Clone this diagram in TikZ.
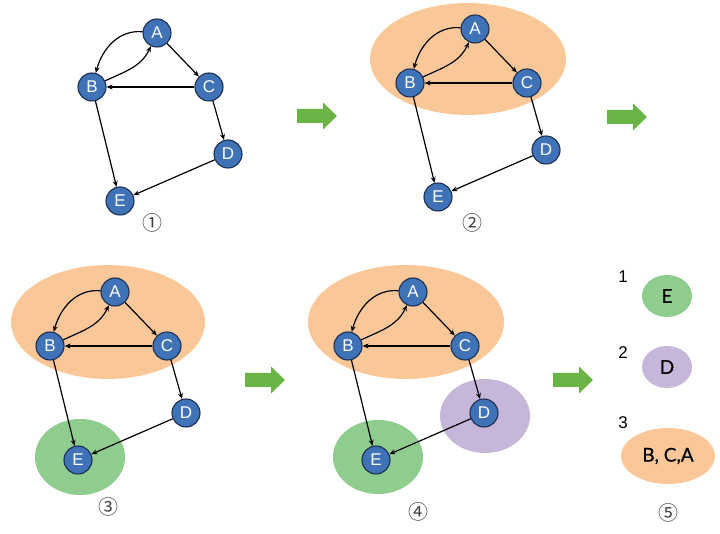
\documentclass[tikz,border=0pt]{standalone}
\usepackage{fontspec}
\setmainfont{Liberation Sans}
\newfontfamily\circfont{Noto Sans CJK SC}
\newfontfamily\blobfont[FakeBold=0.8]{Lato}
\usetikzlibrary{arrows.meta,positioning,shapes.geometric}

\definecolor{nodeblue}{HTML}{3F72B6}
\definecolor{nodeline}{HTML}{1C2F52}
\definecolor{blobgreen}{HTML}{8FCD8F}
\definecolor{blobpurple}{HTML}{C6B7DA}
\definecolor{bloborange}{HTML}{FAC898}
\definecolor{arrowgreen}{HTML}{6AB445}

\begin{document}
\begin{tikzpicture}[x=1pt,y=1pt,>={Stealth[length=6pt,width=5pt]},
    vert/.style={circle,draw=nodeline,fill=nodeblue,line width=1.1pt,minimum size=28pt,inner sep=0pt,text=white,font=\fontsize{17}{17}\selectfont},
    edge/.style={->,line width=1.2pt},
    steplabel/.style={font=\circfont\fontsize{20}{20}\selectfont,text=black!75},
    numlabel/.style={font=\fontsize{17}{17}\selectfont},
    setblob/.style={ellipse,inner sep=0pt,font=\blobfont\fontsize{19}{19}\selectfont},
    stepArrow/.pic={\fill[arrowgreen] (-20,-7) -- (6,-7) -- (6,-13.5) -- (20,0) -- (6,13.5) -- (6,7) -- (-20,7) -- cycle;}]
\useasboundingbox (0,0) rectangle (720,533);

% groups found so far
\fill[bloborange] (468,474) ellipse [x radius=98pt, y radius=56pt];
\fill[bloborange] (108,211) ellipse [x radius=97pt, y radius=57pt];
\fill[blobgreen]  (80,76)   ellipse [x radius=45pt, y radius=38pt];
\fill[bloborange] (406,211) ellipse [x radius=98pt, y radius=57pt];
\fill[blobpurple] (485,117) ellipse [x radius=45pt, y radius=37pt];
\fill[blobgreen]  (378,76)  ellipse [x radius=45pt, y radius=37pt];

% the same graph four times
\foreach \g/\x/\y in {g1/157/500, g2/475/504, g3/115/241, g4/413/241}{
  \node[vert] (\g A) at (\x,\y) {A};
  \node[vert,on grid] (\g B) [below left=54pt and 65pt of \g A] {B};
  \node[vert,on grid] (\g C) [below right=54pt and 52pt of \g A] {C};
  \node[vert,on grid] (\g D) [below right=121pt and 71pt of \g A] {D};
  \node[vert,on grid] (\g E) [below left=168pt and 37pt of \g A] {E};
  \draw[edge] (\g A) to[out=175,in=75] (\g B);
  \draw[edge] (\g B) to[out=25,in=245] (\g A);
  \draw[edge] (\g A) -- (\g C);
  \draw[edge] (\g C) -- (\g B);
  \draw[edge] (\g C) -- (\g D);
  \draw[edge] (\g B) -- (\g E);
  \draw[edge] (\g D) -- (\g E);
}

\node[steplabel] (lab1) at (152,310) {①};
\node[steplabel] (lab2) at (472,310) {②};
\node[steplabel] (lab3) at (108,26)  {③};
\node[steplabel] (lab4) at (418,21)  {④};

\pic at (317,417) {stepArrow};
\pic at (627,416) {stepArrow};
\pic at (265,153) {stepArrow};
\pic at (573,153) {stepArrow};

% order of the groups
\node[numlabel] (n1) at (623,256) {1};
\node[setblob,fill=blobgreen,minimum width=50pt,minimum height=42pt] (s1) at (667,237) {E};
\node[numlabel] (n2) at (623,180) {2};
\node[setblob,fill=blobpurple,minimum width=50pt,minimum height=42pt] (s2) at (667,166) {D};
\node[numlabel] (n3) at (623,110) {3};
\node[setblob,fill=bloborange,minimum width=94pt,minimum height=56pt] (s3) at (668,77) {B, C,A};
\node[steplabel] (lab5) at (668,20) {⑤};

\end{tikzpicture}
\end{document}
